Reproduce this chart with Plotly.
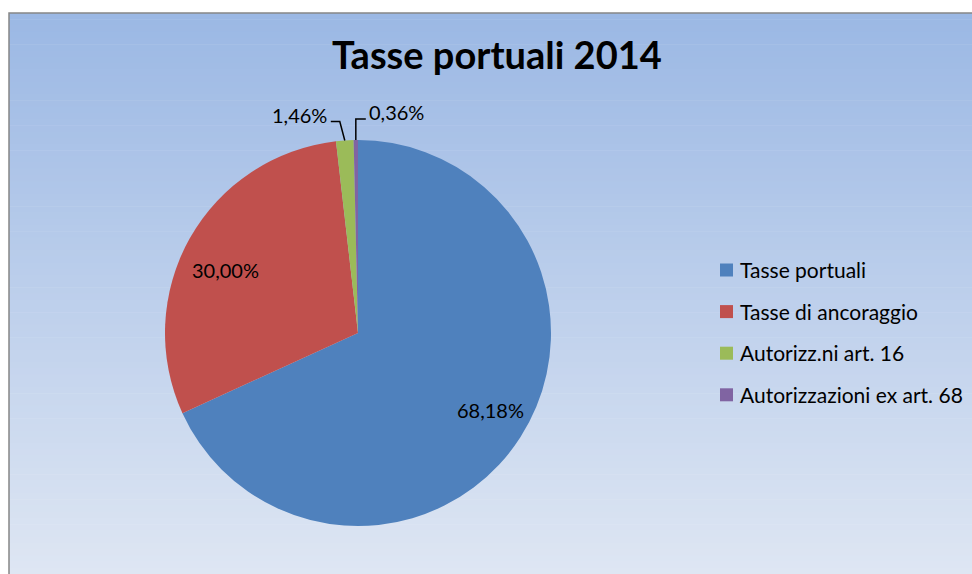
import math
import plotly.graph_objects as go

W, H = 972, 574

# Data
categories = ["Tasse portuali", "Tasse di ancoraggio", "Autorizz.ni art. 16", "Autorizzazioni ex art. 68"]
shares = [68.18, 30.00, 1.46, 0.36]
colors = ["#4F81BD", "#C0504D", "#9BBB59", "#8064A2"]
title_text = "Tasse portuali 2014"


def pct(v):
    return f"{v:.2f}".replace(".", ",") + "%"


pct_labels = [pct(v) for v in shares]

FONT = "Lato"
LABEL_SIZE = 20
LEGEND_SIZE = 21

# Pie geometry in pixels
cx, cy, R = 358, 333, 193


def fx(x):
    return x / W


def fy(y):
    return 1 - y / H


fig = go.Figure(
    go.Pie(
        labels=categories,
        values=shares,
        sort=False,
        direction="clockwise",
        rotation=0,
        marker=dict(colors=colors, line=dict(width=0)),
        textinfo="none",
        domain=dict(x=[fx(cx - R), fx(cx + R)], y=[fy(cy + R), fy(cy - R)]),
        hoverinfo="label+percent",
        showlegend=False,
    )
)

shapes = []
annotations = []

# Chart area background: vertical gradient
top_rgb = (155, 184, 228)
bot_rgb = (222, 230, 243)
y_top, y_bot, x_left = 13, 574, 9
n = 90
for i in range(n):
    t = i / (n - 1)
    c = tuple(round(a + (b - a) * t) for a, b in zip(top_rgb, bot_rgb))
    y0 = y_top + (y_bot - y_top) * i / n
    y1 = y_top + (y_bot - y_top) * (i + 1) / n + 0.6
    shapes.append(dict(type="rect", xref="paper", yref="paper", layer="below",
                       x0=fx(x_left), x1=1, y0=fy(y0), y1=fy(min(y1, y_bot)),
                       fillcolor=f"rgb{c}", line=dict(width=0)))
# Chart area border (left and top edges)
shapes.append(dict(type="path", xref="paper", yref="paper", layer="above",
                   path=f"M {fx(x_left)},{fy(574)} L {fx(x_left)},{fy(y_top)} L 1,{fy(y_top)}",
                   line=dict(color="#878787", width=1.5)))

# Slice mid angles (clockwise from 12 o'clock)
total = sum(shares)
cum = 0.0
mids = []
for v in shares:
    mids.append((cum + v / 2) / total * 2 * math.pi)
    cum += v


def polar_point(ang, r):
    return cx + r * math.sin(ang), cy - r * math.cos(ang)


def label(text, x, y, anchor="center", size=LABEL_SIZE):
    annotations.append(dict(text=text, x=fx(x), y=fy(y), xref="paper", yref="paper",
                            xanchor=anchor, yanchor="middle", showarrow=False,
                            font=dict(family=FONT, size=size, color="#000000")))


# Inside labels for the two large slices
inside_nudge = {0: (6, -4), 1: (-1, 11)}
for i, (dx, dy) in inside_nudge.items():
    x, y = polar_point(mids[i], 0.78 * R)
    label(pct_labels[i], x + dx, y + dy)

# green slice: label on the left with a leader line
ex, ey = polar_point(mids[2], R)
elbow_y = 121.5
shapes.append(dict(type="path", xref="paper", yref="paper",
                   path=f"M {fx(ex - 14)},{fy(elbow_y)} L {fx(ex - 5)},{fy(elbow_y)} L {fx(ex)},{fy(ey)}",
                   line=dict(color="#000000", width=1.5)))
label(pct_labels[2], ex - 16, 115, anchor="right")

# purple slice: label on the right with a leader line
ex, ey = polar_point(mids[3], R)
elbow_y = 119
shapes.append(dict(type="path", xref="paper", yref="paper",
                   path=f"M {fx(ex + 10)},{fy(elbow_y)} L {fx(ex)},{fy(elbow_y)} L {fx(ex)},{fy(ey)}",
                   line=dict(color="#000000", width=1.5)))
label(pct_labels[3], ex + 11, 112, anchor="left")

# Legend
leg_x, leg_y0, leg_dy, sq = 720, 270, 41.6, 13
for i, (name, col) in enumerate(zip(categories, colors)):
    yc = leg_y0 + leg_dy * i
    shapes.append(dict(type="rect", xref="paper", yref="paper",
                       x0=fx(leg_x), x1=fx(leg_x + sq), y0=fy(yc + sq / 2), y1=fy(yc - sq / 2),
                       fillcolor=col, line=dict(width=0)))
    label(name, leg_x + sq + 5, yc - 0.5, anchor="left", size=LEGEND_SIZE)

# Title
label(f"<b>{title_text}</b>", 497, 54, size=38)

fig.update_layout(
    width=W, height=H, autosize=False,
    margin=dict(l=0, r=0, t=0, b=0),
    paper_bgcolor="#FFFFFF",
    plot_bgcolor="#FFFFFF",
    showlegend=False,
    shapes=shapes,
    annotations=annotations,
)

fig.write_html("out.html")
